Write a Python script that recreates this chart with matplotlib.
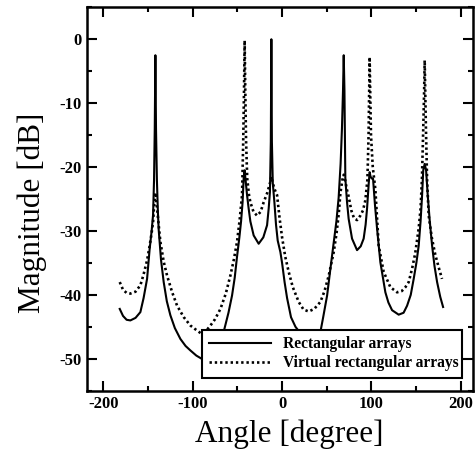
import matplotlib
matplotlib.use("Agg")
import matplotlib.pyplot as plt
from matplotlib.ticker import MultipleLocator

plt.rcParams["font.family"] = ["Liberation Serif", "DejaVu Serif"]
plt.rcParams["axes.unicode_minus"] = False

# Rectangular arrays (solid)
rect_angle = [-181.7, -178, -174, -169.8, -164, -158.6, -155, -151.1, -148.2, -146.0,
              -144.4, -143.3, -142.5, -141.8, -141.1, -140.1, -139.0, -138.1, -135.5,
              -132.5, -129, -125, -120, -113.8, -108, -102.6, -96, -90, -84, -78, -72,
              -65.4, -60, -56, -53, -50.4, -47.8, -45.9, -44.2, -43.0, -42.0, -41.0,
              -39.2, -37.4, -35.5, -31.8, -26.2, -21, -16.8, -15.0, -13.6, -12.6, -12.0,
              -11.4, -10.4, -8.6, -6.8, -4.9, -1.9, 0, 2.8, 5.6, 10, 15, 20.5, 26, 31,
              36, 42.9, 46, 50.4, 54.1, 57.8, 60.8, 63.3, 65.5, 67.0, 68.2, 69.0, 69.8,
              70.8, 72.7, 74.5, 78.3, 83.9, 88, 91.3, 93.5, 95.1, 97.0, 98.0, 99.0,
              100.5, 101.8, 104, 106.3, 110, 115.6, 119, 123.1, 130.5, 136, 139.9, 144,
              147.3, 150.3, 152.9, 155, 156.7, 158.0, 159.6, 161.2, 163, 165.3, 167.9,
              170.6, 173.5, 177, 180.2]
rect_db = [-42.2, -43.3, -43.9, -44.0, -43.6, -42.7, -40.5, -37.5, -32.8, -30.0,
           -27.5, -22.0, -14.0, -2.5, -14.0, -22.0, -27.0, -29.8, -34.5,
           -38.0, -41.0, -43.2, -45.2, -46.9, -48.0, -48.7, -49.5, -50.0, -49.6, -48.8, -47.5,
           -45.8, -42.8, -40.1, -37.3, -34.0, -31.0, -28.5, -25.5, -21.8, -20.5, -21.8,
           -24.4, -26.5, -28.5, -30.7, -32.0, -31.0, -29.1, -26.5, -23.9, -16.0, 0.0,
           -16.0, -22.5, -25.5, -29.0, -31.5, -33.3, -35.0, -38.0, -40.5, -43.5, -45.0, -46.0, -47.2, -47.6,
           -47.2, -45.8, -43.5, -40.1, -35.9, -31.8, -28.5, -24.8, -19.5, -14.0, -8.0, -2.5, -8.0,
           -21.8, -25.5, -28.1, -31.2, -33.0, -32.4, -31.2, -29.0, -26.5, -22.5, -20.8, -21.5,
           -21.8, -21.8, -26.0, -29.6, -34.9, -39.6, -41.2, -42.4, -43.1, -42.8, -41.7, -40.0,
           -37.5, -35.0, -32.3, -28.5, -24.4, -20.5, -19.5, -20.5, -24.4, -28.5, -32.3,
           -35.5, -38.0, -40.3, -41.9]

# Virtual rectangular arrays (dotted)
virt_angle = [-181.7, -178, -174, -169.8, -164, -158.6, -155, -151.1, -148.2, -146.0,
              -144.4, -143.0, -141.8, -140.5, -138.5, -136.2, -132.5, -128.7, -123,
              -117.5, -110, -102.6, -96, -91, -86, -80.2, -75, -69, -63, -57.9, -54,
              -50.4, -47.5, -44.8, -43.5, -42.6, -41.9, -41.2, -40.3, -39.0, -37.0,
              -35.5, -32, -28, -24, -20.6, -16.5, -13.5, -12.0, -10.5, -8.0, -5.6, -2.8,
              0, 3.5, 7.4, 12, 18.6, 24, 29.8, 36, 42.9, 47.5, 52.2, 57.8, 61, 63.5,
              65.3, 67.5, 69.0, 70.5, 72.5, 74.5, 77.5, 80.5, 83.9, 87.6, 90.5, 93.2,
              95.5, 96.8, 97.5, 98.0, 98.6, 99.5, 101.5, 104.4, 108.1, 113.7, 121.2,
              128.7, 134, 138, 141.7, 145.5, 149, 152.9, 155.0, 156.5, 158.0, 159.0,
              159.6, 160.2, 161.0, 162.3, 164.1, 167.5, 171.6, 175.5, 179.0]
virt_db = [-38.0, -39.2, -39.7, -39.8, -39.5, -38.5, -36.8, -34.6, -32.3, -30.3,
           -28.6, -25.5, -24.0, -25.5, -28.5, -31.7, -34.8, -37.0, -39.6,
           -41.7, -43.5, -44.8, -45.5, -46.0, -45.8, -44.8, -43.8, -42.2, -39.8, -37.0, -34.5,
           -31.7, -28.3, -24.4, -16.0, -8.0, -0.2, -8.0, -16.0, -21.8, -24.4,
           -25.5, -27.0, -27.6, -27.0, -25.5, -24.0, -22.5, -21.5, -22.5, -23.6, -24.4, -28.0,
           -31.0, -34.0, -36.4, -38.8, -41.1, -42.3, -42.6, -42.2, -41.1, -39.4, -37.0, -33.3, -30.3, -27.2,
           -24.0, -22.0, -21.2, -22.0, -23.5, -24.6, -26.8, -28.0, -28.3, -27.6, -26.8, -25.2,
           -22.0, -15.0, -8.0, -2.8, -8.0, -15.0, -20.0, -23.5, -32.3, -36.4, -38.8,
           -39.6, -39.4, -38.8, -38.0, -35.9, -33.5, -29.6, -26.5, -22.0, -14.0, -8.0,
           -3.3, -8.0, -14.0, -22.0, -27.6, -31.0, -33.8, -35.8, -37.5]

fig = plt.figure(figsize=(4.76, 4.54), dpi=100)
ax = fig.add_axes([0.1834, 0.1394, 0.8109, 0.8445])

ax.plot(rect_angle, rect_db, color="black", linewidth=1.5, label="Rectangular arrays")
ax.plot(virt_angle, virt_db, color="black", linewidth=1.9, linestyle=(0, (0.9, 1.1)),
        label="Virtual rectangular arrays")

ax.set_xlim(-218, 214)
ax.set_ylim(-55, 5)
ax.xaxis.set_major_locator(MultipleLocator(100))
ax.xaxis.set_minor_locator(MultipleLocator(50))
ax.yaxis.set_major_locator(MultipleLocator(10))
ax.yaxis.set_minor_locator(MultipleLocator(5))
ax.tick_params(which="both", direction="in", top=True, right=True, width=1.5)
ax.tick_params(which="major", length=7, labelsize=12, pad=4)
ax.tick_params(which="minor", length=3.5)
for lab in ax.get_xticklabels() + ax.get_yticklabels():
    lab.set_fontweight("bold")
for side in ax.spines.values():
    side.set_linewidth(1.8)

ax.set_xlabel("Angle [degree]", fontsize=22.5)
ax.set_ylabel("Magnitude [dB]", fontsize=22.5)
ax.xaxis.set_label_coords(0.524, -0.076)
ax.yaxis.set_label_coords(-0.105, 0.4635)

leg = ax.legend(loc="lower left", bbox_to_anchor=(0.298, 0.034, 0.672, 0.113),
                mode="expand", fontsize=11.2, frameon=True, fancybox=False,
                handlelength=4.0, handletextpad=0.8, borderpad=0.4, labelspacing=0.2,
                borderaxespad=0)
leg.get_frame().set_edgecolor("black")
leg.get_frame().set_linewidth(1.5)
leg.get_frame().set_alpha(1.0)
for t in leg.get_texts():
    t.set_fontweight("bold")

fig.savefig("out.png", dpi=100)
